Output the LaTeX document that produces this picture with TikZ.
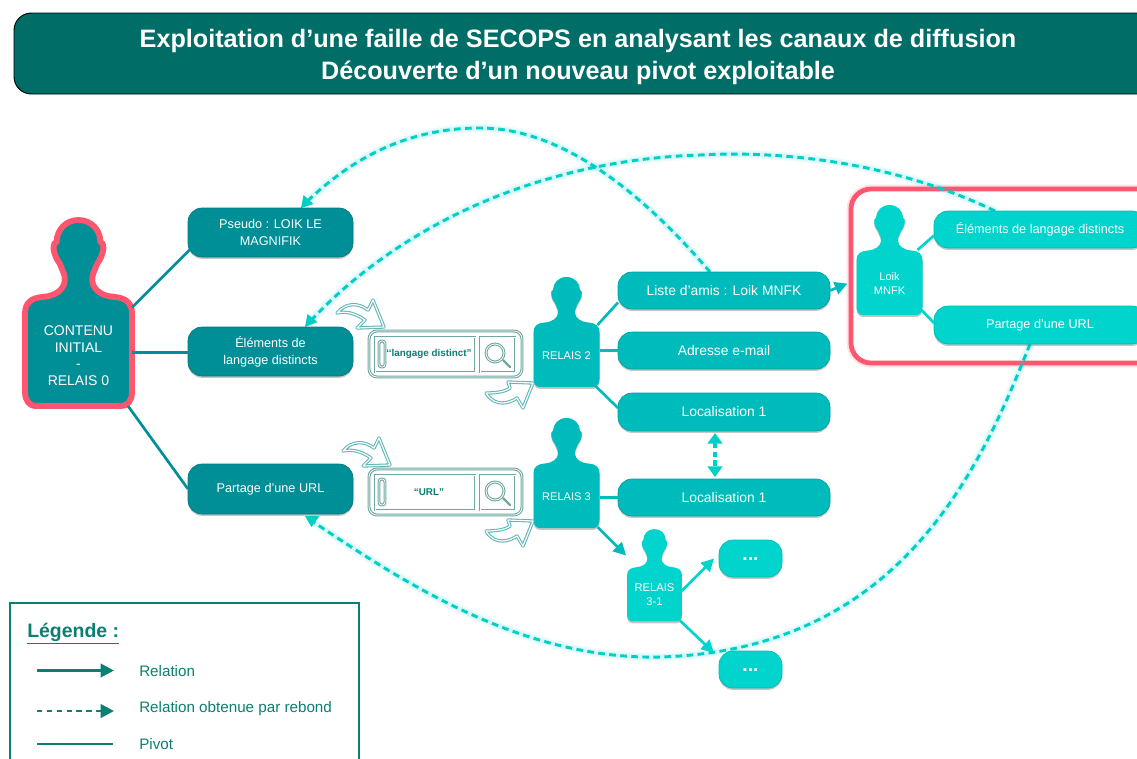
\documentclass[tikz,border=0pt]{standalone}
\usepackage{fontspec}
\setmainfont{Liberation Sans}
\usetikzlibrary{arrows.meta,shadows,fit,calc,backgrounds}
\definecolor{titlecol}{HTML}{006D66}
\definecolor{darkbox}{HTML}{008F97}
\definecolor{midbox}{HTML}{00BBBC}
\definecolor{lightbox}{HTML}{00D4CC}
\definecolor{dashcol}{HTML}{00CFC8}
\definecolor{redcol}{HTML}{FF5670}
\definecolor{legcol}{HTML}{0A7F72}
\definecolor{barcol}{HTML}{6FA8A2}
\definecolor{curvecol}{HTML}{5FB6BA}
\tikzset{
  softshadow/.style={drop shadow={opacity=.45,shadow xshift=0pt,shadow yshift=-1.4pt}},
  boxbase/.style={inner sep=0pt,outer sep=0pt,rounded corners=10.5pt,text=white,align=center,font=\fontsize{9.5}{12.5}\selectfont,softshadow},
  darkb/.style={boxbase,fill=darkbox,draw=darkbox!85!black,line width=.5pt},
  midb/.style={boxbase,fill=midbox,draw=midbox!85!black,line width=.5pt,font=\fontsize{10.4}{12}\selectfont},
  lightb/.style={boxbase,fill=lightbox,draw=lightbox!88!black,line width=.5pt},
  bodytext/.style={inner sep=0pt,outer sep=0pt,text=white,align=center},
  pivotdark/.style={draw=darkbox,line width=2pt},
  pivotmid/.style={draw=midbox,line width=2pt},
  pivotlight/.style={draw=lightbox,line width=2pt},
  tipmid/.style={-{Triangle[length=9.5pt,width=9.5pt]},draw=midbox,line width=2pt},
  rebond/.style={draw=dashcol,line width=2.2pt,dash pattern=on 5pt off 3.3pt},
  glow/.style={draw=dashcol,line width=6.5pt,opacity=.07},
  glowin/.style={draw=dashcol,line width=4pt,opacity=.09},
  bartrace/.style={draw=barcol,line width=.8pt,double=white,double distance=.6pt,fill=white},
  curvetrace/.style={draw=curvecol,line width=.8pt,double=white,double distance=.9pt,fill=white,line join=round},
  legtext/.style={text=legcol,anchor=west,inner sep=0pt,font=\fontsize{11.4}{13}\selectfont},
}
% silhouette: name, centre x, top y, x scale, y scale, colour, text, font
\newcommand{\silhouette}[8]{%
  \begin{scope}[shift={(#2,#3)},xscale=#4,yscale=#5]
    \path[#6] (0,0) .. controls (8,0) and (13.5,6) .. (13.5,13)
      .. controls (15.5,13) and (15.8,17) .. (15,19)
      .. controls (14,23) and (12,25) .. (11.5,26)
      .. controls (10,30) and (8.2,32) .. (8.5,36)
      .. controls (9,41) and (14,45) .. (22,45.5)
      .. controls (29,46) and (33,49) .. (33,55) -- (33,102)
      .. controls (33,107) and (30,110) .. (27,110) -- (-27,110)
      .. controls (-30,110) and (-33,107) .. (-33,102) -- (-33,55)
      .. controls (-33,49) and (-29,46) .. (-22,45.5)
      .. controls (-14,45) and (-9,41) .. (-8.5,36)
      .. controls (-8.2,32) and (-10,30) .. (-11.5,26)
      .. controls (-12,25) and (-14,23) .. (-15,19)
      .. controls (-15.8,17) and (-15.5,13) .. (-13.5,13)
      .. controls (-13.5,6) and (-8,0) .. (0,0) -- cycle;
  \end{scope}
  \node[bodytext,minimum width={66*#4*.75pt},minimum height={63*#5*.75pt},font=#8] (#1) at ({#2},{#3+78.5*#5}) {#7};
}
\newcommand{\tbox}[7]{\node[#6,minimum width={(#4-#2)*.75pt},minimum height={(#5-#3)*.75pt}] (#1) at ({(#2+#4)/2},{(#3+#5)/2}) {#7};}
% search bar: name, top y, text
\newcommand{\searchbar}[3]{%
  \begin{scope}[shift={(0,#2)}]
    \draw[bartrace,rounded corners=6pt] (369,0) rectangle (522,46);
    \draw[bartrace] (375,6) rectangle (475,41);
    \draw[bartrace] (480,6) rectangle (515,41);
    \draw[bartrace,rounded corners=2pt] (379,10) rectangle (385,36);
    \draw[barcol,line width=1.6pt,line cap=round] (503,29) -- (510,36);
    \draw[bartrace] (495,22) circle[radius=9];
    \node[inner sep=0pt,text=legcol,font=\bfseries\fontsize{7.4}{8}\selectfont] (#1) at (429,23) {#3};
  \end{scope}
}
\newcommand{\arrowone}[2]{\draw[curvetrace,shift={(#1,#2)}] (337,313) .. controls (345,303) and (358,302) .. (368,310) -- (373,300) -- (384,327) -- (357,328) -- (365,320) .. controls (355,313) and (346,311) .. (337,313) -- cycle;}
\newcommand{\arrowtwo}[2]{\draw[curvetrace,shift={(#1,#2)}] (486,393) .. controls (495,393) and (505,392) .. (510,388) -- (508,382) -- (533,383) -- (523,408) -- (517,398) .. controls (510,403) and (495,408) .. (486,393) -- cycle;}
\begin{document}
\begin{tikzpicture}[x=.75pt,y=-.75pt]
\useasboundingbox (0,0) rectangle (1137,758);
\clip (0,0) rectangle (1137,758);

% title
\node[fill=titlecol,draw=black,line width=.7pt,rounded corners=13pt,inner sep=0pt,minimum width={1146*.75pt},minimum height={81*.75pt}] (titlebar) at (587,53.5) {};
\node[text=white,align=center,inner sep=0pt,font=\bfseries\fontsize{18.9}{23.5}\selectfont] (title) at (578,57) {Exploitation d’une faille de SECOPS en analysant les canaux de diffusion\\Découverte d’un nouveau pivot exploitable};

% people
\silhouette{p0}{78.5}{220}{1.62}{1.69}{fill=darkbox,draw=redcol,line width=4.4pt,line join=round,drop shadow={opacity=.35,shadow xshift=0pt,shadow yshift=-1.5pt}}{\rule{0pt}{12pt}CONTENU\\INITIAL\\-\\RELAIS 0}{\fontsize{10.5}{12.5}\selectfont}
\silhouette{r2}{566.5}{277}{1}{1}{fill=midbox,softshadow}{RELAIS 2}{\fontsize{8.3}{10}\selectfont}
\silhouette{r3}{566.5}{418}{1}{1}{fill=midbox,softshadow}{RELAIS 3}{\fontsize{8.3}{10}\selectfont}
\silhouette{r31}{654.5}{529}{.83}{.84}{fill=lightbox,softshadow}{RELAIS\\3-1}{\fontsize{8.4}{10.4}\selectfont}
\silhouette{loik}{889.5}{205}{1}{1}{fill=lightbox,softshadow}{Loik\\MNFK}{\fontsize{8.3}{10.4}\selectfont}

% boxes
\tbox{pseudo}{188}{208}{353}{257}{darkb}{Pseudo : LOIK LE\\MAGNIFIK}
\tbox{elem}{188}{327}{353}{376}{darkb}{Éléments de\\langage distincts}
\tbox{url}{188}{464}{353}{514}{darkb}{Partage d’une URL}
\tbox{liste}{618}{272}{830}{309}{midb}{Liste d’amis : Loik MNFK}
\tbox{mail}{618}{332}{830}{369}{midb}{Adresse e-mail}
\tbox{loca}{618}{393}{830}{431}{midb}{Localisation 1}
\tbox{locb}{618}{479}{830}{516}{midb}{Localisation 1}
\tbox{relem}{934}{211}{1146}{248}{lightb}{Éléments de langage distincts}
\tbox{rurl}{934}{306}{1146}{344}{lightb}{Partage d’une URL}
\tbox{dotsa}{719}{540}{782}{577}{lightb,font=\bfseries\fontsize{14.5}{14.5}\selectfont}{\raisebox{-2.6pt}{...}}
\tbox{dotsb}{719}{651}{782}{688}{lightb,font=\bfseries\fontsize{14.5}{14.5}\selectfont}{\raisebox{-2.6pt}{...}}

% search bars and their curved arrows
\searchbar{barone}{331}{‘‘langage distinct”}
\searchbar{bartwo}{469}{“URL”}
\arrowone{0}{0}
\arrowtwo{0}{0}
\arrowone{6}{138}
\arrowtwo{0}{138}

% pivots and relations
\draw[pivotdark] ($(p0.north east)+(0,8)$) -- ($(pseudo.west)+(2,17)$);
\draw[pivotdark] (p0.east) -- (elem.west |- p0.east);
\draw[pivotdark] ($(p0.south east)+(-4,0)$) -- (url.west);
\draw[pivotmid] ($(r2.north east)+(-2,1)$) -- ($(liste.west)+(0,12)$);
\draw[pivotmid] (r2.east |- mail.west) -- (mail.west);
\draw[pivotmid] ($(r2.south east)+(-4,-1)$) -- ($(loca.west)+(0,-4)$);
\draw[pivotmid] (r3.east |- locb.west) -- (locb.west);
\draw[tipmid] (liste.east) -- ($(loik.west)+(-9,0)$);
\draw[tipmid] ($(r3.south east)+(-2,-1)$) -- ($(r31.north west)+(-1,-13)$);
\draw[tipmid,draw=lightbox,-{Triangle[length=9.5pt,width=9.5pt,fill=lightbox]}] ($(r31.east)+(0,-4)$) -- ($(dotsa.west)+(-5,0)$);
\draw[tipmid,draw=lightbox,-{Triangle[length=9.5pt,width=9.5pt,fill=lightbox]}] ($(r31.south east)+(-2,-1)$) -- ($(dotsb.north west)+(-5,2)$);
\draw[pivotlight] ($(loik.north east)+(-5,-2)$) -- ($(relem.west)+(0,6)$);
\draw[pivotlight] ($(loik.south east)+(-1,-5)$) -- ($(rurl.west)+(0,-2)$);
\draw[rebond,line width=2.6pt,{Triangle[length=8pt,width=11pt,fill=dashcol]}-{Triangle[length=8pt,width=11pt,fill=dashcol]},dash pattern=on 4pt off 2.5pt] ($(loca.south)+(-9,2)$) -- ($(locb.north)+(-9,-2)$);

\begin{scope}[on background layer]
  \node[draw=redcol,line width=6.5pt,opacity=.18,rounded corners=15pt,inner sep=0pt,minimum width={319*.75pt},minimum height={174*.75pt}] (frameglow) at (1010.5,276) {};
  \node[fill=white,draw=redcol,line width=3.6pt,rounded corners=15pt,inner sep=0pt,minimum width={319*.75pt},minimum height={174*.75pt},drop shadow={opacity=.2,shadow xshift=0pt,shadow yshift=-1pt}] (frame) at (1010.5,276) {};
  \foreach \stylename in {glow,glowin,rebond}{
    \draw[\stylename] ($(liste.north)+(-14,0)$) .. controls (640,190) and (560,128) .. (480,128)
       .. controls (400,128) and (345,165) .. ($(pseudo.north)+(36,-6)$);
    \draw[\stylename] ($(relem.north)+(-45,0)$) .. controls (900,165) and (790,150) .. (700,155)
       .. controls (540,160) and (400,225) .. ($(elem.north)+(40,-6)$);
    \draw[\stylename] ($(rurl.south)+(-10,0)$) .. controls (980,470) and (900,650) .. (660,657)
       .. controls (520,660) and (400,580) .. ($(url.south)+(40,6)$);
  }
  \fill[dashcol] ($(pseudo.north)+(30.5,0)$) -- ($(pseudo.north)+(33,-13)$) -- ($(pseudo.north)+(43,-4)$) -- cycle;
  \fill[dashcol] ($(elem.north)+(34.5,0)$) -- ($(elem.north)+(37,-13)$) -- ($(elem.north)+(47,-5)$) -- cycle;
  \fill[dashcol] ($(url.south)+(34.5,2)$) -- ($(url.south)+(49,2)$) -- ($(url.south)+(41,13)$) -- cycle;
\end{scope}

% legend
\node[draw=legcol,line width=1.9pt,inner sep=0pt,minimum width={349*.75pt},minimum height={187*.75pt}] (legend) at (184.5,696.5) {};
\node[legtext,font=\bfseries\fontsize{14.6}{16}\selectfont] (legtitle) at (27,634) {\underline{Légende :}};
\coordinate (la) at (37,670.5); \coordinate (lb) at (114,670.5);
\coordinate (lc) at (37,711); \coordinate (ld) at (114,711);
\coordinate (le) at (37,744); \coordinate (lf) at (113,744);
\draw[draw=legcol,line width=2.1pt,-{Triangle[length=10pt,width=10pt,fill=legcol]}] (la) -- (lb);
\draw[draw=legcol,line width=2.1pt,dash pattern=on 4pt off 3.4pt,-{Triangle[length=10pt,width=10pt,fill=legcol]}] (lc) -- (ld);
\draw[draw=legcol,line width=2.1pt] (le) -- (lf);
\node[legtext] (legone) at (139,671) {Relation};
\node[legtext] (legtwo) at (139,709) {Relation obtenue par rebond};
\node[legtext] (legthree) at (139,744) {Pivot};
\end{tikzpicture}
\end{document}
